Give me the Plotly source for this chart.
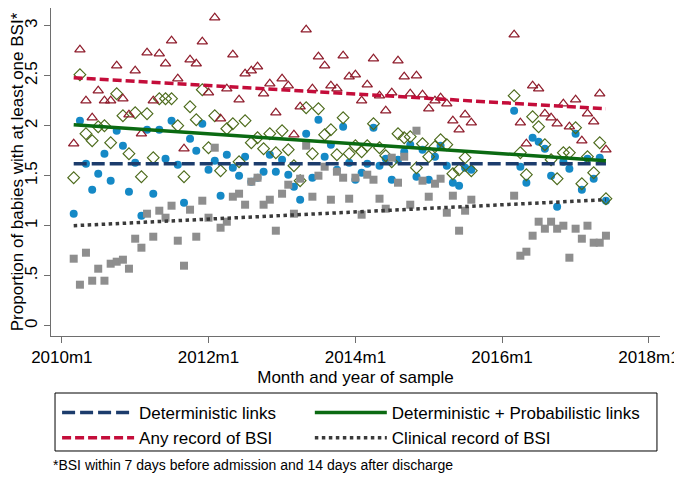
import plotly.graph_objects as go

# Monthly samples (two blocks, gap from 2015m9 to 2016m2)
months = [
    "2010-03", "2010-04", "2010-05", "2010-06", "2010-07", "2010-08", "2010-09", "2010-10", "2010-11", "2010-12",
    "2011-01", "2011-02", "2011-03", "2011-04", "2011-05", "2011-06", "2011-07", "2011-08", "2011-09", "2011-10",
    "2011-11", "2011-12", "2012-01", "2012-02", "2012-03", "2012-04", "2012-05", "2012-06", "2012-07", "2012-08",
    "2012-09", "2012-10", "2012-11", "2012-12", "2013-01", "2013-02", "2013-03", "2013-04", "2013-05", "2013-06",
    "2013-07", "2013-08", "2013-09", "2013-10", "2013-11", "2013-12", "2014-01", "2014-02", "2014-03", "2014-04",
    "2014-05", "2014-06", "2014-07", "2014-08", "2014-09", "2014-10", "2014-11", "2014-12", "2015-01", "2015-02",
    "2015-03", "2015-04", "2015-05", "2015-06", "2015-07", "2015-08",
    "2016-03", "2016-04", "2016-05", "2016-06", "2016-07", "2016-08", "2016-09", "2016-10", "2016-11", "2016-12",
    "2017-01", "2017-02", "2017-03", "2017-04", "2017-05", "2017-06",
]

deterministic = [
    1.12, 2.05, 1.62, 1.36, 1.52, 1.72, 1.45, 1.95, 1.80, 1.34,
    1.63, 1.10, 1.96, 1.32, 1.96, 1.67, 2.05, 1.61, 1.23, 1.87,
    1.75, 2.02, 1.56, 1.65, 1.30, 1.71, 1.58, 1.50, 1.69, 1.44,
    1.48, 1.54, 1.71, 1.54, 1.66, 1.51, 1.39, 1.26, 1.92, 1.48,
    2.06, 1.69, 1.81, 1.56, 1.99, 1.63, 1.46, 1.53, 1.62, 1.98,
    1.60, 1.67, 1.46, 1.66, 1.74, 1.81, 1.49, 1.76, 1.46, 1.69,
    1.80, 1.60, 1.43, 1.40, 1.58, 1.56,
    2.15, 1.59, 1.43, 1.88, 1.84, 1.77, 1.50, 1.19, 1.64, 1.57,
    1.92, 1.36, 1.67, 1.47, 1.68, 1.25,
]

det_prob = [
    1.48, 2.51, 1.92, 1.85, 1.99, 2.00, 1.83, 2.32, 2.10, 1.72,
    2.13, 1.49, 2.12, 1.68, 2.27, 2.27, 2.27, 2.00, 1.49, 2.19,
    2.06, 2.36, 1.78, 2.10, 1.55, 1.97, 2.02, 1.64, 2.05, 1.83,
    1.88, 1.77, 1.92, 1.73, 1.95, 1.76, 1.60, 1.45, 2.18, 1.72,
    2.17, 1.91, 1.96, 1.71, 2.08, 1.72, 1.80, 1.74, 1.80, 2.02,
    1.78, 1.70, 1.64, 1.92, 1.88, 1.89, 1.58, 1.82, 1.69, 1.79,
    1.86, 1.81, 1.52, 1.56, 1.68, 1.55,
    2.30, 1.73, 1.51, 2.09, 1.99, 1.81, 1.66, 1.47, 1.73, 1.73,
    1.98, 1.42, 1.69, 1.53, 1.83, 1.27,
]

any_record = [
    1.82, 2.76, 2.25, 2.08, 2.35, 2.25, 2.25, 2.60, 2.27, 2.11,
    2.55, 1.92, 2.73, 2.25, 2.72, 2.62, 2.85, 2.47, 1.77, 2.66,
    2.62, 2.84, 2.33, 3.08, 2.07, 2.37, 2.71, 2.26, 2.52, 2.55,
    2.59, 2.32, 2.42, 2.13, 2.47, 2.40, 1.91, 2.19, 2.96, 2.37,
    2.69, 2.60, 2.40, 2.37, 2.70, 2.49, 2.51, 2.25, 2.41, 2.67,
    2.30, 2.15, 2.33, 2.65, 2.49, 2.32, 2.50, 2.31, 2.17, 2.25,
    2.28, 2.22, 2.05, 1.96, 2.11, 2.03,
    2.91, 2.03, 1.82, 2.40, 2.37, 2.12, 2.08, 2.02, 2.22, 1.99,
    2.26, 1.85, 2.12, 2.04, 2.32, 1.76,
]

clinical = [
    0.67, 0.41, 0.73, 0.45, 0.57, 0.45, 0.62, 0.64, 0.66, 0.57,
    0.87, 0.78, 1.12, 0.89, 1.15, 1.08, 1.20, 0.85, 0.60, 1.16,
    0.89, 1.25, 1.08, 1.78, 0.98, 1.04, 1.29, 1.32, 1.21, 1.44,
    1.48, 1.21, 1.26, 0.95, 1.32, 1.41, 1.12, 1.47, 1.80, 1.29,
    1.50, 1.59, 1.26, 1.54, 1.48, 1.27, 1.48, 1.11, 1.51, 1.46,
    1.27, 1.17, 1.68, 1.43, 1.69, 1.21, 1.95, 1.45, 1.29, 1.42,
    1.47, 1.13, 1.30, 0.95, 1.15, 1.26,
    1.30, 0.70, 0.74, 0.90, 1.04, 0.97, 1.04, 0.97, 1.00, 0.68,
    0.97, 0.87, 1.00, 0.83, 0.83, 0.90,
]

# Linear fit lines: values at first and last month
fit_x = ["2010-03", "2017-06"]
fit_deterministic = [1.62, 1.62]
fit_det_prob = [2.01, 1.65]
fit_any = [2.48, 2.17]
fit_clinical = [1.00, 1.26]

x_ticks = ["2010-01", "2012-01", "2014-01", "2016-01", "2018-01"]
y_ticks = [0, 0.5, 1, 1.5, 2, 2.5, 3]
y_labels = ["0", ".5", "1", "1.5", "2", "2.5", "3"]

FONT = "Arial, Liberation Sans, sans-serif"
FS = 17

fig = go.Figure()

# scatter points
fig.add_trace(go.Scatter(
    x=months, y=deterministic, mode="markers", showlegend=False,
    marker=dict(symbol="circle", size=8, color="#1589c6", line=dict(width=0)),
))
fig.add_trace(go.Scatter(
    x=months, y=det_prob, mode="markers", showlegend=False,
    marker=dict(symbol="diamond-open", size=9, color="#4d6b1c", line=dict(width=1.2)),
))
fig.add_trace(go.Scatter(
    x=months, y=any_record, mode="markers", showlegend=False,
    marker=dict(symbol="triangle-up-open", size=9, color="#8f1d2c", line=dict(width=1.3)),
))
fig.add_trace(go.Scatter(
    x=months, y=clinical, mode="markers", showlegend=False,
    marker=dict(symbol="square", size=8, color="#8e8e8e", line=dict(width=0)),
))

# fitted lines (these carry the two legend columns)
fig.add_trace(go.Scatter(
    x=fit_x, y=fit_deterministic, mode="lines", name="Deterministic links", legend="legend",
    line=dict(color="#1c3c6c", width=3.5, dash="13px,5px"),
))
fig.add_trace(go.Scatter(
    x=fit_x, y=fit_det_prob, mode="lines", name="Deterministic + Probabilistic links", legend="legend2",
    line=dict(color="#0b6a12", width=3.5),
))
fig.add_trace(go.Scatter(
    x=fit_x, y=fit_any, mode="lines", name="Any record of BSI", legend="legend",
    line=dict(color="#c40d3a", width=3.5, dash="9px,4px"),
))
fig.add_trace(go.Scatter(
    x=fit_x, y=fit_clinical, mode="lines", name="Clinical record of BSI", legend="legend2",
    line=dict(color="#3a3a3a", width=3.5, dash="3.5px,3.5px"),
))

fig.update_xaxes(
    type="date",
    range=["2009-11-08", "2018-02-25"],
    tickvals=x_ticks,
    tickformat="%Ym%-m",
    ticks="outside", ticklen=6, tickcolor="#6e6e6e",
    showline=True, linecolor="#6e6e6e", linewidth=1,
    showgrid=False, zeroline=False, automargin=False,
    tickfont=dict(size=FS, color="#000000", family=FONT),
    title=dict(text="Month and year of sample", font=dict(size=FS, color="#000000", family=FONT), standoff=4),
)
fig.update_yaxes(
    range=[-0.103, 3.177],
    tickvals=y_ticks, ticktext=y_labels, tickangle=-90,
    ticks="outside", ticklen=6, tickcolor="#6e6e6e",
    showline=True, linecolor="#6e6e6e", linewidth=1,
    showgrid=False, zeroline=False, automargin=False,
    tickfont=dict(size=FS, color="#000000", family=FONT),
    title=dict(text="Proportion of babies with at least one BSI*",
               font=dict(size=FS, color="#000000", family=FONT), standoff=7),
)

# legend frame
fig.add_shape(
    type="rect", xref="paper", yref="paper",
    x0=0.0066, x1=0.995, y0=-0.3506, y1=-0.1738,
    line=dict(color="#000000", width=1), fillcolor="rgba(0,0,0,0)", layer="above",
)

fig.add_annotation(
    text="*BSI within 7 days before admission and 14 days after discharge",
    xref="paper", yref="paper", x=0.0, y=-0.393, xanchor="left", yanchor="middle",
    showarrow=False, font=dict(size=14, color="#000000", family=FONT),
)

legend_common = dict(
    orientation="v", xanchor="left", yanchor="top",
    bgcolor="rgba(0,0,0,0)", borderwidth=0, tracegroupgap=0,
    font=dict(size=FS, family=FONT, color="#000000"), itemwidth=72,
)

# the page body adds an 8px margin, so the figure is 8px smaller than the window
fig.update_layout(
    width=674, height=471,
    margin=dict(l=43, r=22, t=0, b=143, autoexpand=False),
    paper_bgcolor="white", plot_bgcolor="white",
    font=dict(family=FONT, color="#000000"),
    legend=dict(x=0.010, y=-0.18, **legend_common),
    legend2=dict(x=0.425, y=-0.18, **legend_common),
)

fig.write_html("out.html")
